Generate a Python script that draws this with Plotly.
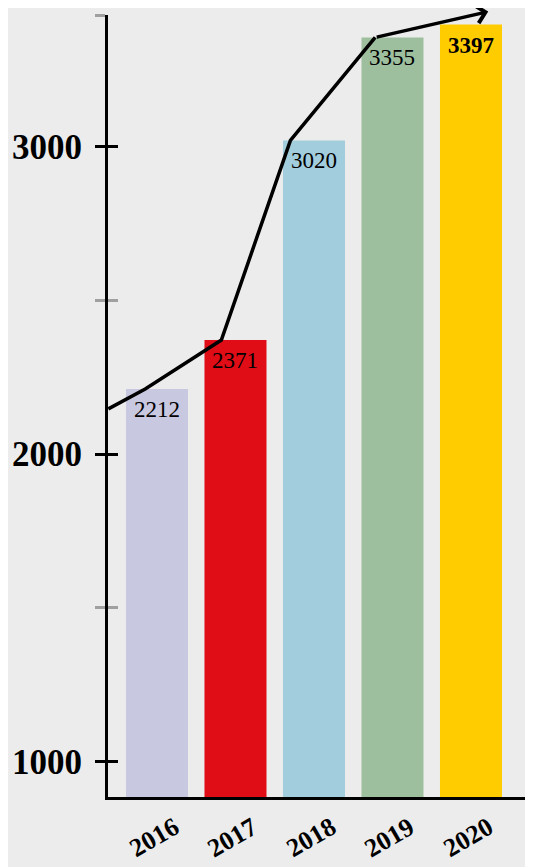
import plotly.graph_objects as go

# ---- data ----
years = ["2016", "2017", "2018", "2019", "2020"]
values = [2212, 2371, 3020, 3355, 3397]
bar_colors = ["#c8c8e0", "#e00c16", "#a2cddc", "#9dbf9e", "#ffcc00"]
y_tick_vals = [1000, 2000, 3000]
y_tick_text = ["1000", "2000", "3000"]
# trend arrow (position along x in bar units, value)
trend_x = [-0.62, -0.15, 0.82, 1.70, 2.78]
trend_y = [2147, 2212, 2371, 3020, 3355]
arrow_tip_x = 4.22
arrow_tip_y = 3439

Y_MIN, Y_MAX = 885, 3428
X_MIN, X_MAX = -0.624, 4.79
minor_vals = [1500, 2500, Y_MAX]

BG = "#ececec"
SERIF = "Liberation Serif, DejaVu Serif, serif"

xpos = list(range(len(years)))

fig = go.Figure()
fig.add_trace(go.Bar(
    x=xpos, y=values, width=0.79,
    marker=dict(color=bar_colors, line=dict(width=0)),
    hoverinfo="skip", showlegend=False,
))
fig.add_trace(go.Scatter(
    x=trend_x, y=trend_y, mode="lines",
    line=dict(color="black", width=3.5),
    hoverinfo="skip", showlegend=False, cliponaxis=False,
))
# invisible trace so that the overlay axis (inner half of ticks) renders
fig.add_trace(go.Scatter(
    x=[xpos[0]], y=[values[0]], yaxis="y2", mode="markers",
    marker=dict(opacity=0), hoverinfo="skip", showlegend=False,
))

annotations = []
for i, (yr, v) in enumerate(zip(years, values)):
    txt = f"<b>{v}</b>" if v == max(values) else str(v)
    annotations.append(dict(
        x=i, y=v, xref="x", yref="y", text=txt, showarrow=False,
        yanchor="top", yshift=-6,
        font=dict(family=SERIF, size=23, color="black"),
    ))
    annotations.append(dict(
        x=i, y=0, xref="x", yref="paper", text=f"<b>{yr}</b>", showarrow=False,
        textangle=-30, yanchor="middle", yshift=-40, xshift=-3,
        font=dict(family=SERIF, size=26, color="black"),
    ))
annotations.append(dict(
    x=arrow_tip_x, y=arrow_tip_y, xref="x", yref="y",
    ax=trend_x[-1], ay=trend_y[-1], axref="x", ayref="y",
    text="", showarrow=True, arrowhead=4, arrowsize=1.0,
    arrowwidth=3.5, arrowcolor="black", standoff=0, startstandoff=0,
))

fig.update_layout(
    width=525, height=859,
    margin=dict(l=100, r=0, t=7, b=70),
    paper_bgcolor=BG, plot_bgcolor=BG,
    bargap=0.2,
    xaxis=dict(
        range=[X_MIN, X_MAX], showgrid=False, zeroline=False,
        showline=True, linecolor="black", linewidth=3,
        showticklabels=False, ticks="",
    ),
    yaxis=dict(
        range=[Y_MIN, Y_MAX], showgrid=False, zeroline=False,
        showline=True, linecolor="black", linewidth=3,
        tickmode="array", tickvals=y_tick_vals, ticktext=y_tick_text,
        ticks="outside", ticklen=10, tickwidth=3, tickcolor="black",
        ticklabelstandoff=6,
        tickfont=dict(family=SERIF, size=35, color="black", weight="bold"),
        minor=dict(tickmode="array", tickvals=minor_vals, ticks="outside",
                   ticklen=10, tickwidth=3, tickcolor="#a0a0a0", showgrid=False),
    ),
    yaxis2=dict(
        range=[Y_MIN, Y_MAX], overlaying="y", anchor="x", side="left",
        showgrid=False, zeroline=False, showline=False,
        tickmode="array", tickvals=y_tick_vals, showticklabels=False,
        ticks="inside", ticklen=10, tickwidth=3, tickcolor="black",
        minor=dict(tickmode="array", tickvals=minor_vals, ticks="inside",
                   ticklen=10, tickwidth=3, tickcolor="#a0a0a0", showgrid=False),
    ),
    annotations=annotations,
)

fig.write_html("out.html")
